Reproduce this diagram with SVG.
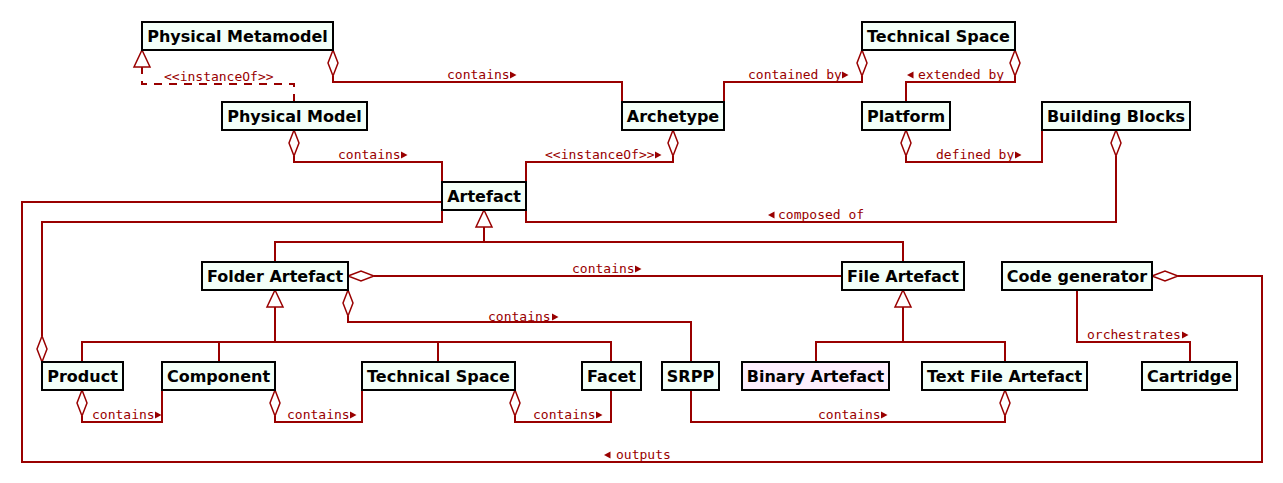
<svg xmlns="http://www.w3.org/2000/svg" width="1283" height="483" viewBox="0 0 1283 483">
<style>
.ln{fill:none;stroke:#990000;stroke-width:2}
.ds{fill:none;stroke:#990000;stroke-width:2;stroke-dasharray:8,7}
.dm{fill:#ffffff;stroke:#990000;stroke-width:1.5}
.tr{fill:#ffffff;stroke:#990000;stroke-width:1.5}
.ar{fill:#990000;stroke:none}
.lb{font-family:"DejaVu Sans Mono","Liberation Mono",monospace;font-size:13px;fill:#990000}
.bx{fill:#F3FFF8;stroke:#000000;stroke-width:2}
.pk{fill:#FCEEFC;stroke:#000000;stroke-width:2}
.nt{font-family:"DejaVu Sans","Liberation Sans",sans-serif;font-size:16px;font-weight:bold;fill:#000000;text-anchor:middle}
</style>
<defs>
<polygon id="dv" points="0,0 5,13 0,26 -5,13"/>
<polygon id="dh" points="0,0 13,-5 26,0 13,5"/>
<polygon id="gt" points="0,0 8,17 -8,17"/>
<polygon id="ra" points="0,-7.5 6.5,-4 0,-0.5"/>
<polygon id="la" points="6.5,-7.5 0,-4 6.5,-0.5"/>
</defs>
<g id="connectors">
  <!-- Physical Metamodel contains Archetype -->
  <path class="ln" d="M333,76 V82 H622 V102"/>
  <use href="#dv" class="dm" x="333" y="50"/>
  <text class="lb" x="447" y="79">contains</text><use href="#ra" class="ar" x="510" y="79"/>
  <!-- Physical Model instanceOf Physical Metamodel -->
  <path class="ds" d="M294,102 V84 H142 V67"/>
  <use href="#gt" class="tr" x="142" y="50"/>
  <text class="lb" x="164" y="81">&lt;&lt;instanceOf&gt;&gt;</text>
  <!-- Physical Model contains Artefact -->
  <path class="ln" d="M294,156 V162 H442 V182"/>
  <use href="#dv" class="dm" x="294" y="130"/>
  <text class="lb" x="338" y="159">contains</text><use href="#ra" class="ar" x="401" y="159"/>
  <!-- Archetype - Artefact -->
  <path class="ln" d="M673,156 V162 H526 V182"/>
  <use href="#dv" class="dm" x="673" y="130"/>
  <text class="lb" x="545" y="159">&lt;&lt;instanceOf&gt;&gt;</text><use href="#ra" class="ar" x="655" y="159"/>
  <!-- Archetype contained by Technical Space -->
  <path class="ln" d="M724,102 V82 H862 V76"/>
  <use href="#dv" class="dm" x="862" y="50"/>
  <text class="lb" x="748" y="79">contained by</text><use href="#ra" class="ar" x="842" y="79"/>
  <!-- Technical Space extended by Platform -->
  <path class="ln" d="M1015,76 V82 H906 V102"/>
  <use href="#dv" class="dm" x="1015" y="50"/>
  <use href="#la" class="ar" x="907" y="79"/><text class="lb" x="918" y="79">extended by</text>
  <!-- Platform defined by Building Blocks -->
  <path class="ln" d="M906,156 V162 H1042 V130"/>
  <use href="#dv" class="dm" x="906" y="130"/>
  <text class="lb" x="936" y="159">defined by</text><use href="#ra" class="ar" x="1015" y="159"/>
  <!-- Building Blocks composed of Artefact -->
  <path class="ln" d="M1116,156 V222 H526 V210"/>
  <use href="#dv" class="dm" x="1116" y="130"/>
  <use href="#la" class="ar" x="768" y="219"/><text class="lb" x="778" y="219">composed of</text>
  <!-- Artefact generalization -->
  <path class="ln" d="M484,227 V242 M275,262 V242 H903 V262"/>
  <use href="#gt" class="tr" x="484" y="210"/>
  <!-- Folder Artefact contains File Artefact -->
  <path class="ln" d="M374,276 H842"/>
  <use href="#dh" class="dm" x="348" y="276"/>
  <text class="lb" x="572" y="273">contains</text><use href="#ra" class="ar" x="635" y="273"/>
  <!-- Folder Artefact contains SRPP -->
  <path class="ln" d="M348,316 V322 H691 V362"/>
  <use href="#dv" class="dm" x="348" y="290"/>
  <text class="lb" x="488" y="321">contains</text><use href="#ra" class="ar" x="552" y="321"/>
  <!-- Folder Artefact generalization -->
  <path class="ln" d="M275,307 V342 M82,362 V342 H611 V362 M219,342 V362 M438,342 V362"/>
  <use href="#gt" class="tr" x="275" y="290"/>
  <!-- File Artefact generalization -->
  <path class="ln" d="M903,307 V342 M816,362 V342 H1005 V362"/>
  <use href="#gt" class="tr" x="903" y="290"/>
  <!-- Code generator outputs Artefact -->
  <path class="ln" d="M1178,276 H1262 V462 H22 V202 H442"/>
  <use href="#dh" class="dm" x="1152" y="276"/>
  <use href="#la" class="ar" x="604" y="459"/><text class="lb" x="616" y="459">outputs</text>
  <!-- Artefact - Product -->
  <path class="ln" d="M442,210 V222 H42 V336"/>
  <use href="#dv" class="dm" x="42" y="336"/>
  <!-- Product contains Component -->
  <path class="ln" d="M82,416 V422 H162 V390"/>
  <use href="#dv" class="dm" x="82" y="390"/>
  <text class="lb" x="92" y="419">contains</text><use href="#ra" class="ar" x="155" y="419"/>
  <!-- Component contains Technical Space -->
  <path class="ln" d="M275,416 V422 H362 V390"/>
  <use href="#dv" class="dm" x="275" y="390"/>
  <text class="lb" x="287" y="419">contains</text><use href="#ra" class="ar" x="350" y="419"/>
  <!-- Technical Space contains Facet -->
  <path class="ln" d="M515,416 V422 H611 V390"/>
  <use href="#dv" class="dm" x="515" y="390"/>
  <text class="lb" x="533" y="419">contains</text><use href="#ra" class="ar" x="596" y="419"/>
  <!-- SRPP contains Text File Artefact -->
  <path class="ln" d="M691,390 V422 H1005 V416"/>
  <use href="#dv" class="dm" x="1005" y="390"/>
  <text class="lb" x="818" y="419">contains</text><use href="#ra" class="ar" x="881" y="419"/>
  <!-- Code generator orchestrates Cartridge -->
  <path class="ln" d="M1077,290 V342 H1190 V362"/>
  <text class="lb" x="1087" y="339">orchestrates</text><use href="#ra" class="ar" x="1182" y="339"/>
</g>
<g id="physical-metamodel"><rect class="bx" x="142" y="22" width="191" height="28"/><text class="nt" x="237.5" y="41.5">Physical Metamodel</text></g>
<g id="technical-space-top"><rect class="bx" x="862" y="22" width="153" height="28"/><text class="nt" x="938.5" y="41.5">Technical Space</text></g>
<g id="physical-model"><rect class="bx" x="222" y="102" width="145" height="28"/><text class="nt" x="294.5" y="121.5">Physical Model</text></g>
<g id="archetype"><rect class="bx" x="622" y="102" width="102" height="28"/><text class="nt" x="673" y="121.5">Archetype</text></g>
<g id="platform"><rect class="bx" x="862" y="102" width="88" height="28"/><text class="nt" x="906" y="121.5">Platform</text></g>
<g id="building-blocks"><rect class="bx" x="1042" y="102" width="148" height="28"/><text class="nt" x="1116" y="121.5">Building Blocks</text></g>
<g id="artefact"><rect class="bx" x="442" y="182" width="84" height="28"/><text class="nt" x="484" y="201.5">Artefact</text></g>
<g id="folder-artefact"><rect class="bx" x="202" y="262" width="146" height="28"/><text class="nt" x="275" y="281.5">Folder Artefact</text></g>
<g id="file-artefact"><rect class="bx" x="842" y="262" width="122" height="28"/><text class="nt" x="903" y="281.5">File Artefact</text></g>
<g id="code-generator"><rect class="bx" x="1002" y="262" width="150" height="28"/><text class="nt" x="1077" y="281.5">Code generator</text></g>
<g id="product"><rect class="bx" x="42" y="362" width="81" height="28"/><text class="nt" x="82.5" y="381.5">Product</text></g>
<g id="component"><rect class="bx" x="162" y="362" width="113" height="28"/><text class="nt" x="218.5" y="381.5">Component</text></g>
<g id="technical-space"><rect class="bx" x="362" y="362" width="153" height="28"/><text class="nt" x="438.5" y="381.5">Technical Space</text></g>
<g id="facet"><rect class="bx" x="582" y="362" width="59" height="28"/><text class="nt" x="611.5" y="381.5">Facet</text></g>
<g id="srpp"><rect class="bx" x="662" y="362" width="57" height="28"/><text class="nt" x="690.5" y="381.5">SRPP</text></g>
<g id="binary-artefact"><rect class="pk" x="742" y="362" width="147" height="28"/><text class="nt" x="815.5" y="381.5">Binary Artefact</text></g>
<g id="text-file-artefact"><rect class="bx" x="922" y="362" width="165" height="28"/><text class="nt" x="1004.5" y="381.5">Text File Artefact</text></g>
<g id="cartridge"><rect class="bx" x="1142" y="362" width="95" height="28"/><text class="nt" x="1189.5" y="381.5">Cartridge</text></g>
</svg>
